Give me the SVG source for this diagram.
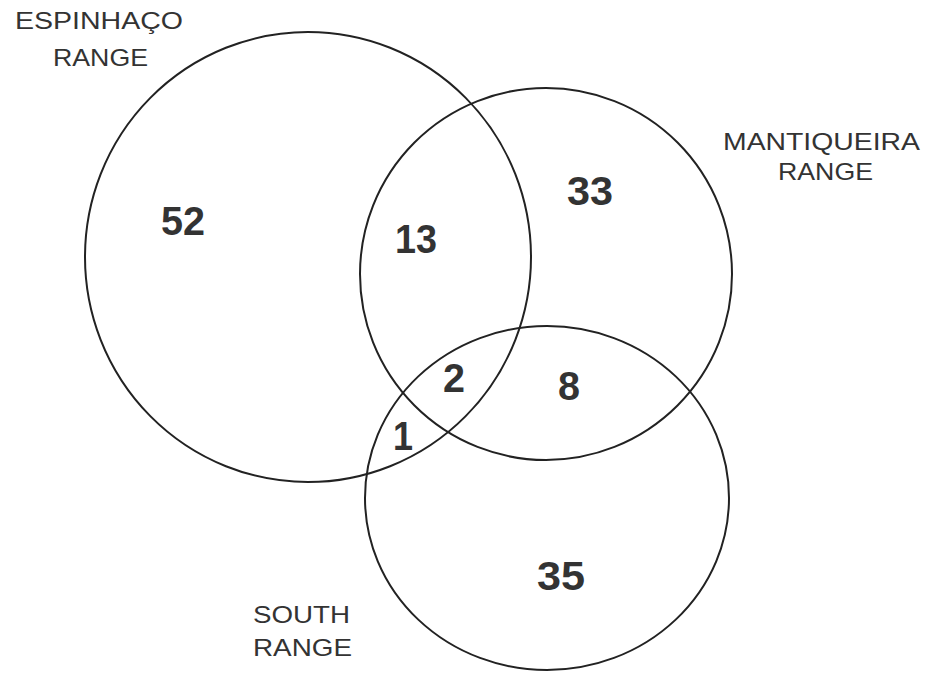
<svg xmlns="http://www.w3.org/2000/svg" width="933" height="679" viewBox="0 0 933 679">
<style>
.c{fill:none;stroke:#222;stroke-width:2}
.lbl{font-family:"Liberation Sans",Arial,sans-serif;font-size:24px;fill:#333}
.num{font-family:"Liberation Sans",Arial,sans-serif;font-size:40px;font-weight:bold;fill:#333}
</style>
<rect width="933" height="679" fill="#fff"/>
<g id="connectors">
<ellipse id="circle-espinhaco" class="c" cx="308" cy="257" rx="223" ry="225"/>
<ellipse id="circle-mantiqueira" class="c" cx="546" cy="274" rx="186" ry="186"/>
<ellipse id="circle-south" class="c" cx="547" cy="498" rx="182" ry="172"/>
</g>
<g id="label-espinhaco">
<text class="lbl" x="15" y="29" textLength="168" lengthAdjust="spacingAndGlyphs">ESPINHAÇO</text>
<text class="lbl" x="53" y="66" textLength="95" lengthAdjust="spacingAndGlyphs">RANGE</text>
</g>
<g id="label-mantiqueira">
<text class="lbl" x="723" y="150" textLength="197" lengthAdjust="spacingAndGlyphs">MANTIQUEIRA</text>
<text class="lbl" x="778" y="180" textLength="95" lengthAdjust="spacingAndGlyphs">RANGE</text>
</g>
<g id="label-south">
<text class="lbl" x="253" y="623" textLength="97" lengthAdjust="spacingAndGlyphs">SOUTH</text>
<text class="lbl" x="253" y="656" textLength="99" lengthAdjust="spacingAndGlyphs">RANGE</text>
</g>
<g id="n52"><text class="num" x="161" y="235" textLength="44" lengthAdjust="spacingAndGlyphs">52</text></g>
<g id="n13"><text class="num" x="395" y="253" textLength="42" lengthAdjust="spacingAndGlyphs">13</text></g>
<g id="n33"><text class="num" x="567" y="205" textLength="46" lengthAdjust="spacingAndGlyphs">33</text></g>
<g id="n2"><text class="num" x="443" y="392" textLength="22" lengthAdjust="spacingAndGlyphs">2</text></g>
<g id="n1"><text class="num" x="393" y="450" textLength="20" lengthAdjust="spacingAndGlyphs">1</text></g>
<g id="n8"><text class="num" x="558" y="400" textLength="22" lengthAdjust="spacingAndGlyphs">8</text></g>
<g id="n35"><text class="num" x="537" y="590" textLength="48" lengthAdjust="spacingAndGlyphs">35</text></g>
</svg>
